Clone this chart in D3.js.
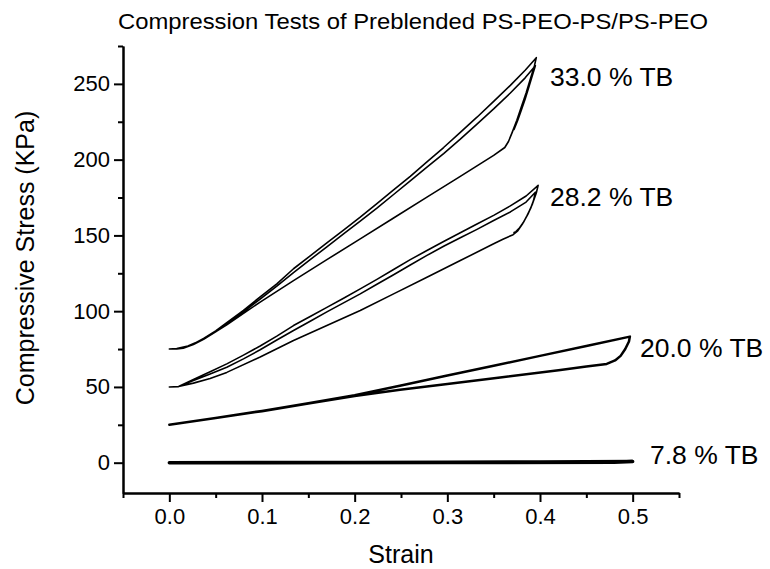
<!DOCTYPE html>
<html>
<head>
<meta charset="utf-8">
<script src="https://cdn.jsdelivr.net/npm/d3@7"></script>
<style>
  html, body { margin: 0; padding: 0; background: #fff; }
  svg { display: block; font-family: "Liberation Sans", Arial, sans-serif; }
</style>
</head>
<body>
<svg id="chart" width="770" height="569"></svg>
<script>
// ---------- data (strain, stress in KPa) ----------
const titleText = "Compression Tests of Preblended PS-PEO-PS/PS-PEO";
const xLabel = "Strain";
const yLabel = "Compressive Stress (KPa)";
const xMajorTicks = [0.0, 0.1, 0.2, 0.3, 0.4, 0.5];
const xMinorTicks = [-0.05, 0.05, 0.15, 0.25, 0.35, 0.45, 0.55];
const yMajorTicks = [0, 50, 100, 150, 200, 250];
const yMinorTicks = [25, 75, 125, 175, 225, 275];
const seriesNames = ["33.0 % TB", "28.2 % TB", "20.0 % TB", "7.8 % TB"];

// 33.0 % TB : load 1, unload 1, load 2, unload 2 (hook)
const tb330Strain = [0,0.008,0.015,0.026,0.037,0.05,0.062,0.08,0.098,0.116,0.134,0.152,0.17,0.188,0.206,0.224,0.242,0.26,0.278,0.296,0.314,0.332,0.35,0.368,0.384,0.396,
  0.394,0.39,0.385,0.38,0.375,0.37,0.366,0.362,0.35,0.314,0.278,0.242,0.206,0.17,0.134,0.098,0.062,0.037,0.02,0.008,0,
  0.008,0.015,0.026,0.037,0.05,0.062,0.08,0.098,0.116,0.134,0.152,0.17,0.188,0.206,0.224,0.242,0.26,0.278,0.296,0.314,0.332,0.35,0.368,0.384,0.395,
  0.392,0.388,0.384,0.38,0.376,0.372];
const tb330Stress = [75,75,75.5,78.4,82,87,92.5,100.5,109.5,118,128,136.5,145,153.5,162,171,180,189,198.5,208,218,228,238.5,249,259,267.3,
  262,254,244,235,226,218,212,208,202.8,189,175.3,161.5,147.7,134,120.2,106,91,81.5,77,75.3,75,
  75.2,75.6,78,81.5,86.3,91.5,99.5,108,116.5,125.5,134,142.5,151,159.5,168,177,186,195,204,213.5,223.5,233.5,244,254,262,
  256,248,240,233,226,220];

// 28.2 % TB
const tb282Strain = [0,0.01,0.026,0.044,0.062,0.08,0.098,0.116,0.134,0.152,0.17,0.188,0.206,0.224,0.242,0.26,0.278,0.296,0.314,0.332,0.35,0.368,0.385,0.398,
  0.396,0.392,0.387,0.381,0.376,0.371,0.36,0.35,0.314,0.278,0.242,0.206,0.17,0.134,0.098,0.062,0.044,0.026,0.01,0,
  0.01,0.026,0.044,0.062,0.08,0.098,0.116,0.134,0.152,0.17,0.188,0.206,0.224,0.242,0.26,0.278,0.296,0.314,0.332,0.35,0.368,0.385,0.395,
  0.393,0.39,0.386,0.382,0.378,0.374,0.372];
const tb282Stress = [50,50.3,55,60,65.2,71,77,83.5,90.5,96.5,102.5,108.5,114.7,121,127.5,134,140,146,151.8,157.5,163.2,169.5,176,183,
  178,171,164,157.5,153,150.5,147.5,144.5,133.4,122.4,111.4,100.4,90.5,80.6,69.8,59.6,55.5,52.5,50.3,50,
  50.2,54.2,58.5,63,68.5,74.5,81,87.2,93.3,99.5,105.5,111.4,117.8,124,130.5,136.8,142.8,148.5,154,159.8,165.5,172,178.5,
  173,168,163,158.5,155,152.5,152];

// 20.0 % TB
const tb200Strain = [0,0.05,0.1,0.15,0.2,0.25,0.3,0.35,0.4,0.45,0.497,
  0.496,0.492,0.487,0.481,0.472,0.45,0.42,0.357,0.3,0.249,0.2,0.15,0.1,0.05,0];
const tb200Stress = [25,29.5,34.2,39.2,44.5,50.9,57.5,64,70.5,77,83.2,
  80,75,70.5,67.5,65.2,63.5,61,56.3,52,48.2,44,39,34,29.5,25];

// 7.8 % TB
const tb78Strain = [0,0.1,0.2,0.3,0.4,0.5,0.48,0.3,0.1,0];
const tb78Stress = [0,0.1,0.2,0.3,0.5,0.8,0.3,0.1,0.0,0];

// ---------- chart ----------
const svg = d3.select("#chart");
const x = d3.scaleLinear().domain([-0.05, 0.55]).range([123, 679]);
const y = d3.scaleLinear().domain([-20, 275]).range([493, 46]);

const fmtX = d3.format(".1f");

function styleAxis(g) {
  g.selectAll(".domain").attr("stroke", "#000").attr("stroke-width", 2);
  g.selectAll(".tick line").attr("stroke", "#000").attr("stroke-width", 2);
  g.selectAll(".tick text").attr("fill", "#000")
    .style("font-family", '"Liberation Sans", Arial, sans-serif')
    .style("font-size", "22px");
}

const xAxisMajor = svg.append("g").attr("transform", "translate(0,493)")
  .call(d3.axisBottom(x).tickValues(xMajorTicks).tickSize(9).tickSizeOuter(0)
        .tickPadding(6).tickFormat(fmtX));
styleAxis(xAxisMajor);
const xAxisMinor = svg.append("g").attr("transform", "translate(0,493)")
  .call(d3.axisBottom(x).tickValues(xMinorTicks).tickSize(5).tickSizeOuter(0).tickFormat(""));
styleAxis(xAxisMinor);

const yAxisMajor = svg.append("g").attr("transform", "translate(123,0)")
  .call(d3.axisLeft(y).tickValues(yMajorTicks).tickSize(9).tickSizeOuter(0)
        .tickPadding(4).tickFormat(d3.format("d")));
styleAxis(yAxisMajor);
const yAxisMinor = svg.append("g").attr("transform", "translate(123,0)")
  .call(d3.axisLeft(y).tickValues(yMinorTicks).tickSize(5).tickSizeOuter(0).tickFormat(""));
styleAxis(yAxisMinor);

// series
const series = [
  { name: seriesNames[0], xs: tb330Strain, ys: tb330Stress, w: 1.6 },
  { name: seriesNames[1], xs: tb282Strain, ys: tb282Stress, w: 1.6 },
  { name: seriesNames[2], xs: tb200Strain, ys: tb200Stress, w: 2.5 },
  { name: seriesNames[3], xs: tb78Strain,  ys: tb78Stress,  w: 3.5 }
];
const line = d3.line().x(d => x(d[0])).y(d => y(d[1]));
series.forEach(s => {
  const pts = s.xs.map((v, i) => [v, s.ys[i]]);
  svg.append("path").datum(pts)
    .attr("d", line)
    .attr("fill", "none")
    .attr("stroke", "#000")
    .attr("stroke-width", s.w)
    .attr("stroke-linejoin", "round")
    .attr("stroke-linecap", "round");
});

// series labels
const labelPos = [
  { x: 550, y: 85.5 },
  { x: 550, y: 205.5 },
  { x: 640, y: 357 },
  { x: 650, y: 464 }
];
seriesNames.forEach((n, i) => {
  svg.append("text").attr("x", labelPos[i].x).attr("y", labelPos[i].y)
    .attr("font-size", 26.5).attr("fill", "#000").text(n);
});

// title
svg.append("text").attr("x", 118).attr("y", 29)
  .attr("font-size", 22).attr("fill", "#000")
  .attr("textLength", 590).attr("lengthAdjust", "spacingAndGlyphs")
  .text(titleText);

// axis labels
svg.append("text").attr("x", 401).attr("y", 563)
  .attr("text-anchor", "middle").attr("font-size", 25).attr("fill", "#000")
  .text(xLabel);
svg.append("text").attr("transform", "translate(34,258) rotate(-90)")
  .attr("text-anchor", "middle").attr("font-size", 25).attr("fill", "#000")
  .text(yLabel);
</script>
</body>
</html>
